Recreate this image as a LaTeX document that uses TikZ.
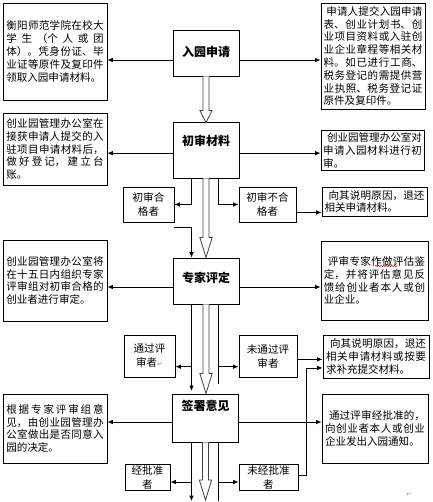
\documentclass[tikz,border=0pt]{standalone}
\usepackage{fontspec}
\setmainfont{Noto Sans CJK SC}
\newfontfamily\symfont{DejaVu Sans}
\usetikzlibrary{arrows.meta,calc,decorations.pathmorphing}
\XeTeXlinebreaklocale "zh"
\XeTeXlinebreakskip=0pt plus 8pt minus 0.2pt

\newcommand\bodyfont{\fontsize{7.9}{9.6}\selectfont}
\newcommand\titlefont{\fontsize{9}{11}\selectfont\bfseries}

% hollow block arrow: from, to, head length
\newcommand\fatarrow[3]{%
  \draw[fatarrow] let \p1=(#1), \p2=(#2) in
    (\x1-2.3pt,\y1) -- (\x1-2.3pt,\y2+#3) -- (\x1-4.6pt,\y2+#3) -- (\x1,\y2)
    -- (\x1+4.6pt,\y2+#3) -- (\x1+2.3pt,\y2+#3) -- (\x1+2.3pt,\y1);}

\tikzset{
  infobox/.style={draw, line width=0.7pt, align=justify, text width=#1,
    inner xsep=0pt, inner ysep=0pt, font=\bodyfont},
  infobox/.default=73pt,
  stagebox/.style={draw, line width=0.7pt, align=center, inner xsep=0pt,
    inner ysep=0pt, minimum width=49.5pt, font=\titlefont},
  resultbox/.style={draw, line width=0.7pt, align=center, inner sep=0pt,
    font=\fontsize{7.9}{10.5}\selectfont},
  link/.style={line width=0.6pt, -{Latex[length=4pt,width=3.4pt]}},
  plainlink/.style={line width=0.6pt},
  fatarrow/.style={draw=black!75, line width=0.6pt, fill=white},
  parmark/.style={font=\symfont\fontsize{5}{5}\selectfont, text=black!40, inner sep=0pt},
}

\begin{document}
\begin{tikzpicture}[x=0.75pt, y=-0.75pt]
  \useasboundingbox (0,0) rectangle (432,502);
  \coordinate (laneL) at (191.5,0);
  \coordinate (laneR) at (218,0);
  \coordinate (bottom) at (0,501);
  \coordinate (bottomtip) at (205,500);

  % stages
  \node[stagebox, text height=19.9pt, text depth=14.6pt] (apply) at (206,53) {入园申请};
  \node[stagebox, text height=16.9pt, text depth=24.4pt] (check) at (206,150.5) {初审材料};
  \node[stagebox, text height=18.4pt, text depth=16.1pt] (expert) at (206,281) {专家评定};
  \node[stagebox, text height=12.4pt, text depth=23.6pt] (sign) at (205.5,418) {签署意见};

  % left column
  \node[infobox, minimum width=78pt, minimum height=72.75pt] (collect) at (55,51.5) {衡阳师范学院在校大\linebreak 学生（个人或团\linebreak 体）。凭身份证、毕\linebreak 业证等原件及复印件\linebreak 领取入园申请材料。};
  \node[infobox, minimum width=78pt, minimum height=54pt] (office) at (55,149) {创业园管理办公室在\linebreak 接获申请人提交的入\linebreak 驻项目申请材料后，\linebreak 做好登记，建立台\linebreak 账。};
  \node[infobox, minimum width=78pt, minimum height=60.75pt] (panel) at (55,280.5) {创业园管理办公室将\linebreak 在十五日内组织专家\linebreak 评审组对初审合格的\linebreak 创业者进行审定。};
  \node[infobox, minimum width=78pt, minimum height=51.75pt] (decide) at (55,428.5) {根据专家评审组意\linebreak 见，由创业园管理办\linebreak 公室做出是否同意入\linebreak 园的决定。};

  % right column
  \node[infobox=74pt, minimum width=78pt, minimum height=79.5pt] (submit) at (373,56) {\hspace*{2pt}申请人提交入园申请\linebreak 表、创业计划书、创\linebreak 业项目资料或入驻创\linebreak 业企业章程等相关材\linebreak 料。如已进行工商、\linebreak 税务登记的需提供营\linebreak 业执照、税务登记证\linebreak 原件及复印件。};
  \node[infobox=74pt, minimum width=77.25pt, minimum height=30pt] (audit) at (372.5,150.5) {\hspace*{3pt}创业园管理办公室对\linebreak 申请入园材料进行初\linebreak 审。};
  \node[infobox=75pt, minimum width=78.75pt, minimum height=21.75pt, font=\fontsize{7.9}{8.4}\selectfont] (backA) at (374.5,201.5) {\hspace*{3pt}向其说明原因，退还\linebreak 相关申请材料。};
  \node[infobox=76pt, minimum width=80.25pt, minimum height=59.25pt] (feedback) at (374.5,280.5) {\hspace*{3pt}评审专家作做评估鉴\linebreak 定，并将评估意见反\linebreak 馈给创业者本人或创\linebreak 业企业。};
  \node[infobox=75pt, minimum width=79.5pt, minimum height=32.25pt] (backB) at (376,356.5) {\hspace*{3pt}向其说明原因，退还\linebreak 相关申请材料或按要\linebreak 求补充提交材料。};
  \node[infobox=75pt, minimum width=79.5pt, minimum height=51.75pt] (notify) at (375,428.5) {\hspace*{3pt}通过评审经批准的，\linebreak 向创业者本人或创业\linebreak 企业发出入园通知。};

  % results
  \node[resultbox, minimum width=38.25pt, minimum height=26.25pt] (pass1) at (148.5,204.5) {初审合\\格者};
  \node[resultbox, minimum width=42.75pt, minimum height=26.25pt] (fail1) at (267.5,204.5) {初审不合\\格者};
  \node[resultbox, minimum width=38.25pt, minimum height=31.5pt] (pass2) at (149.5,356) {通过评\\审者{\symfont\fontsize{5}{5}\selectfont\color{black!45}↵}};
  \node[resultbox, minimum width=43.5pt, minimum height=31.5pt] (fail2) at (268,356) {未通过评\\审者};
  \node[resultbox, minimum width=33.75pt, minimum height=19.5pt] (pass3) at (147.5,477) {经批准\\者};
  \node[resultbox, minimum width=44.25pt, minimum height=19.5pt] (fail3) at (268.5,477) {未经批准\\者};

  \node[parmark] (pmA) at (409,494) {↵};

  % main flow
  \fatarrow{apply.south}{check.north}{9pt}
  \fatarrow{check.south}{expert.north}{15pt}
  \fatarrow{expert.south}{sign.north}{15pt}
  \fatarrow{sign.south}{bottomtip}{15pt}

  % row 1
  \draw[link] ([yshift=-5.25pt]apply.west) -- ([yshift=-5.25pt]apply.west -| collect.east);
  \draw[link] ([yshift=-5.25pt]apply.east) -- ([yshift=-5.25pt]apply.east -| submit.west);

  % row 2
  \draw[link] ([yshift=-2pt]check.west) -- ([yshift=-2pt]check.west -| office.east);
  \draw[link] ([yshift=-2pt]check.east) -- ([yshift=-2pt]check.east -| audit.west);
  \draw[link] (check.south -| laneL) |- (pass1.east);
  \draw[link] (check.south -| laneR) |- (fail1.west);
  \draw[link] ([yshift=-6pt]fail1.east) -- ([yshift=-6pt]fail1.east -| backA.west);
  \draw[link] ([yshift=-3.75pt]pass1.south east) -| (expert.north -| laneL);

  % row 3
  \draw[link] ([yshift=-4.5pt]expert.west) -- ([yshift=-4.5pt]expert.west -| panel.east);
  \draw[link] ([yshift=-4.5pt]expert.east) -- ([yshift=-4.5pt]expert.east -| feedback.west);

  % row 4
  \draw[link] (expert.south -| laneL) -- ([yshift=2pt]sign.north -| laneL);
  \draw[link] ([yshift=-8pt]pass2.east -| laneL) -- ([yshift=-8pt]pass2.east);
  \draw[plainlink] (expert.south -| laneR) -- ([yshift=7pt]sign.north -| laneR);
  \draw[link] ([yshift=-8pt]fail2.west -| laneR) -- ([yshift=-8pt]fail2.west);
  \draw[link] ([yshift=-2.5pt]fail2.east) -- ([yshift=-2.5pt]fail2.east -| backB.west);

  % row 5
  \draw[link] ([yshift=-3pt]sign.west) -- ([yshift=-3pt]sign.west -| decide.east);
  \draw[link] ([yshift=-3pt]sign.east) -- ([yshift=-3pt]sign.east -| notify.west);
  \draw[link] (sign.south -| laneL) -- (bottom -| laneL);
  \draw[link] ([yshift=-3.75pt]pass3.east -| laneL) -- ([yshift=-3.75pt]pass3.east);
  \draw[plainlink] (sign.south -| laneR) -- (bottom -| laneR);
  \draw[link] ([yshift=-3.75pt]fail3.west -| laneR) -- ([yshift=-3.75pt]fail3.west);
  \draw[link] ([yshift=1.5pt]fail3.east) -- ++(8,0) |- ([yshift=-8.6pt]backB.west);

  % spelling mark
  \draw[red, line width=0.4pt, decorate, decoration={snake, amplitude=0.5pt, segment length=2pt}] (375,266) -- (397,266);
\end{tikzpicture}
\end{document}
